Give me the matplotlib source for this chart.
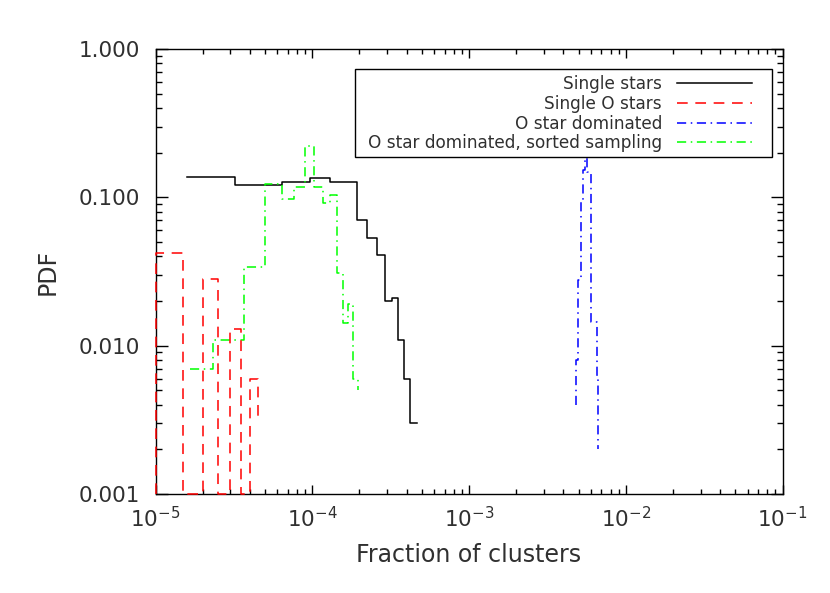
import matplotlib
matplotlib.use("Agg")
import matplotlib.pyplot as plt
import matplotlib.ticker as mticker
from matplotlib.patches import Rectangle
import numpy as np

# ---- data (bin edges in fraction, PDF values) ----
single_edges = [1.6e-5, 3.2e-5, 6.4e-5, 9.7e-5, 1.29e-4, 1.93e-4, 2.24e-4,
                2.58e-4, 2.9e-4, 3.21e-4, 3.52e-4, 3.87e-4, 4.19e-4, 4.66e-4]
single_pdf = [0.137, 0.121, 0.126, 0.136, 0.126, 0.070, 0.053,
              0.041, 0.020, 0.021, 0.011, 0.006, 0.003]

single_o_edges = [1.0e-5, 1.5e-5, 2.0e-5, 2.5e-5, 3.0e-5, 3.5e-5, 4.0e-5, 4.5e-5]
single_o_pdf = [0.042, 0.0, 0.028, 0.0, 0.013, 0.0, 0.006]
single_o_start = 0.0
single_o_end = 0.003

odom_edges = [4.8e-3, 4.98e-3, 5.15e-3, 5.36e-3, 5.51e-3, 5.70e-3, 5.96e-3, 6.51e-3, 6.68e-3]
odom_pdf = [0.0080, 0.0277, 0.096, 0.153, 0.184, 0.148, 0.0145, 0.0061]
odom_start = 0.004
odom_end = 0.002

sorted_edges = [1.66e-5, 2.34e-5, 3.67e-5, 5.0e-5, 6.39e-5, 7.68e-5, 8.95e-5, 1.026e-4,
                1.166e-4, 1.298e-4, 1.438e-4, 1.571e-4, 1.679e-4, 1.828e-4, 1.967e-4]
sorted_pdf = [0.0070, 0.0110, 0.0340, 0.1226, 0.0974, 0.1181, 0.2232, 0.1175,
              0.0917, 0.1038, 0.0309, 0.0142, 0.0190, 0.0060]
sorted_end = 0.005

labels = ['Single stars', 'Single O stars', 'O star dominated',
          'O star dominated, sorted sampling']
y_ticks = [0.001, 0.01, 0.1, 1.0]

TEXT = '#303030'


def step_path(edges, values, floor, start=None, end=None):
  edges = np.asarray(edges, dtype=float)
  values = np.maximum(np.asarray(values, dtype=float), floor)
  xs = np.repeat(edges, 2)[1:-1]
  ys = np.repeat(values, 2)
  if start is not None:
    xs = np.r_[edges[0], xs]
    ys = np.r_[max(start, floor), ys]
  if end is not None:
    xs = np.r_[xs, edges[-1]]
    ys = np.r_[ys, max(end, floor)]
  return xs, ys


fig = plt.figure(figsize=(8.3, 5.93), dpi=100)
ax = fig.add_axes([155.5 / 830, 99 / 593, 627 / 830, 445 / 593])
ax.set_xscale('log')
ax.set_yscale('log')
ax.set_xlim(1e-5, 1e-1)
ax.set_ylim(1e-3, 1.0)
floor = ax.get_ylim()[0]

lw = 1.1
dashdot = (0, (6, 3, 1, 3))

xs, ys = step_path(single_edges, single_pdf, floor)
h1, = ax.plot(xs, ys, color='black', lw=lw, label=labels[0])

xs, ys = step_path(single_o_edges, single_o_pdf, floor, single_o_start, single_o_end)
h2, = ax.plot(xs, ys, color='red', lw=lw, linestyle=(0, (7, 5)), label=labels[1],
              clip_on=False, zorder=3)

xs, ys = step_path(odom_edges, odom_pdf, floor, odom_start, odom_end)
h3, = ax.plot(xs, ys, color='blue', lw=lw, linestyle=dashdot, label=labels[2])

xs, ys = step_path(sorted_edges, sorted_pdf, floor, None, sorted_end)
h4, = ax.plot(xs, ys, color='#00ff00', lw=lw, linestyle=dashdot, label=labels[3])

# axes styling, IDL-like: inward ticks on all four sides
ax.tick_params(which='both', direction='in', top=True, right=True, colors='black',
               labelcolor=TEXT, labelsize=15.5, width=1.0)
ax.tick_params(axis='x', which='major', length=6.5, pad=9)
ax.tick_params(axis='x', which='minor', length=3.4)
ax.tick_params(axis='y', which='major', length=8.6, pad=11)
ax.tick_params(axis='y', which='minor', length=4.3)
ax.yaxis.set_major_locator(mticker.FixedLocator(y_ticks))
ax.yaxis.set_major_formatter(mticker.FuncFormatter(lambda v, _p: f"{v:.3f}"))
ax.yaxis.set_minor_locator(mticker.LogLocator(base=10, subs=np.arange(2, 10), numticks=20))
ax.yaxis.set_minor_formatter(mticker.NullFormatter())
ax.xaxis.set_minor_locator(mticker.LogLocator(base=10, subs=np.arange(2, 10), numticks=20))
ax.xaxis.set_minor_formatter(mticker.NullFormatter())
for sp in ax.spines.values():
  sp.set_linewidth(1.0)

ax.set_xlabel('Fraction of clusters', fontsize=17, color=TEXT, labelpad=8)
ax.set_ylabel('PDF', fontsize=17, color=TEXT, labelpad=14)

# legend: right-aligned labels with line samples on the right, plain box
ax.add_patch(Rectangle((0.318, 0.757), 0.9828 - 0.318, 0.9544 - 0.757,
                       transform=ax.transAxes, fill=False, edgecolor='black', lw=1.0, zorder=4))
leg = ax.legend(handles=[h1, h2, h3, h4], loc='upper right', bbox_to_anchor=(0.9509, 0.941),
                frameon=False, markerfirst=False, borderaxespad=0, borderpad=0,
                fontsize=12.2, labelspacing=0.1, handlelength=4.4, handletextpad=0.9)
for t in leg.get_texts():
  t.set_color(TEXT)

fig.savefig('out.png', dpi=100)
